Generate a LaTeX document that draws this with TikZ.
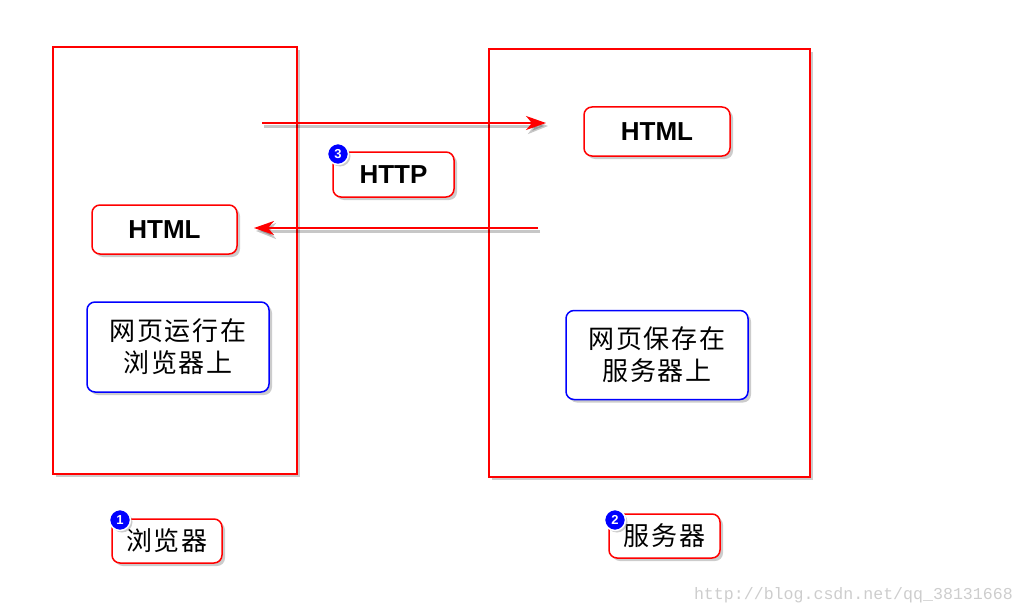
\documentclass[tikz,border=0pt]{standalone}
\usepackage{fontspec}
\setmainfont{Liberation Sans}
\newfontfamily\cjk[LetterSpace=6]{Noto Sans CJK SC}
\newfontfamily\wmfont{Liberation Mono}
\usetikzlibrary{shadows,arrows.meta}
\definecolor{bred}{RGB}{255,0,0}
\definecolor{bblue}{RGB}{0,0,255}
\definecolor{wmgray}{RGB}{205,205,205}
\begin{document}
\begin{tikzpicture}[x=1pt,y=-1pt,
  shadowed/.style={drop shadow={opacity=0.4,shadow xshift=3pt,shadow yshift=-3pt}},
  frame/.style={draw=bred,line width=2pt,fill=white,shadowed,inner sep=0pt},
  redbox/.style={draw=bred,line width=1.5pt,rounded corners=8pt,fill=white,shadowed,inner sep=0pt,
    font=\bfseries\fontsize{26}{30}\selectfont},
  bluebox/.style={draw=bblue,line width=1.5pt,rounded corners=8pt,fill=white,shadowed,inner sep=0pt,
    align=center,font=\cjk\fontsize{26}{32}\selectfont},
  labelbox/.style={draw=bred,line width=1.5pt,rounded corners=8pt,fill=white,shadowed,inner sep=0pt,
    font=\cjk\fontsize{26}{30}\selectfont},
  badge/.style={circle,fill=bblue,draw=white,line width=1.5pt,text=white,inner sep=0pt,minimum size=21pt,
    font=\bfseries\fontsize{13}{13}\selectfont,drop shadow={opacity=0.4,shadow xshift=2pt,shadow yshift=-2pt}},
  arr/.style={draw=bred,line width=1.6pt,-{Stealth[length=20pt,width=14pt,inset=6pt]}},
  arrshadow/.style={draw=black,opacity=0.22,line width=3pt,-{Stealth[length=20pt,width=16pt,inset=6pt]}},
  watermark/.style={text=wmgray,font=\wmfont\fontsize{16.6}{18}\selectfont,inner sep=0pt}
]
\useasboundingbox (0,0) rectangle (1024,615);

% big frames
\node[frame,minimum width=244pt,minimum height=427pt] (browser) at (175,260.5) {};
\node[frame,minimum width=321pt,minimum height=428pt] (server) at (649.5,263) {};

% arrows
\coordinate (a1s) at (262,123);
\coordinate (a1e) at (546,123);
\coordinate (a2s) at (538,228);
\coordinate (a2e) at (254,228);
\draw[arrshadow] ([shift={(2,3)}]a1s) -- ([shift={(2,3)}]a1e);
\draw[arrshadow] ([shift={(2,3)}]a2s) -- ([shift={(2,3)}]a2e);
\draw[arr] (a1s) -- (a1e);
\draw[arr] (a2s) -- (a2e);

% HTML / HTTP boxes
\node[redbox,minimum width=146pt,minimum height=49pt] (htmlR) at (657,131.5) {HTML};
\node[redbox,minimum width=121pt,minimum height=45pt] (http) at (393.5,174.5) {HTTP};
\node[redbox,minimum width=145pt,minimum height=49pt] (htmlL) at (164.5,229.5) {HTML};

% blue boxes
\node[bluebox,minimum width=182pt,minimum height=90pt] (runL) at (178,347) {网页运行在\\浏览器上};
\node[bluebox,minimum width=182pt,minimum height=89pt] (saveR) at (657,355) {网页保存在\\服务器上};

% labels
\node[labelbox,minimum width=110pt,minimum height=44pt] (lblB) at (167,541) {浏览器};
\node[labelbox,minimum width=111pt,minimum height=44pt] (lblS) at (664.5,536) {服务器};

% badges
\node[badge] (b1) at (120,520) {1};
\node[badge] (b2) at (615,520) {2};
\node[badge] (b3) at (338,154) {3};

% watermark
\node[watermark,anchor=east] (wm) at (1013,595) {http://blog.csdn.net/qq\_38131668};
\end{tikzpicture}
\end{document}
